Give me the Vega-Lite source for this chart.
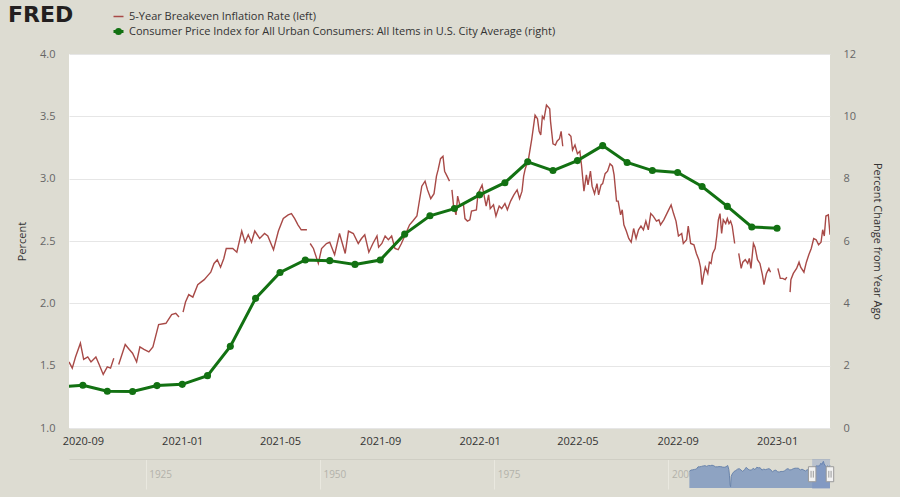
{
"$schema": "https://vega.github.io/schema/vega-lite/v6.json",
"autosize": {"type": "none"},
"padding": {"left": 69, "top": 54, "right": 831, "bottom": 443},
"background": "#dddcd2",
"config": {"font": "Open Sans", "view": {"stroke": null}},
"title": {"text": "FRED", "anchor": "start", "frame": "group", "orient": "top", "font": "DejaVu Sans", "fontSize": 22, "fontWeight": "bold", "color": "#231f20", "baseline": "alphabetic", "offset": 0, "dx": -61, "dy": 33, "letterSpacing": -1},
"datasets": {
"bei": [
{"date":"2020-08-15","rate":1.53},{"date":"2020-08-19","rate":1.48},{"date":"2020-08-23","rate":1.57},{"date":"2020-08-29","rate":1.68},{"date":"2020-09-02","rate":1.55},{"date":"2020-09-07","rate":1.57},{"date":"2020-09-11","rate":1.53},{"date":"2020-09-17","rate":1.57},{"date":"2020-09-21","rate":1.51},{"date":"2020-09-26","rate":1.43},{"date":"2020-10-01","rate":1.49},{"date":"2020-10-05","rate":1.48},{"date":"2020-10-09","rate":1.56},{"date":"2020-10-12","rate":null},
{"date":"2020-10-15","rate":1.51},{"date":"2020-10-23","rate":1.67},{"date":"2020-10-28","rate":1.63},{"date":"2020-11-01","rate":1.60},{"date":"2020-11-06","rate":1.53},{"date":"2020-11-10","rate":1.65},{"date":"2020-11-15","rate":1.63},{"date":"2020-11-21","rate":1.61},{"date":"2020-11-26","rate":1.65},{"date":"2020-12-03","rate":1.83},{"date":"2020-12-12","rate":1.84},{"date":"2020-12-19","rate":1.91},{"date":"2020-12-24","rate":1.92},{"date":"2020-12-28","rate":1.89},{"date":"2020-12-31","rate":null},
{"date":"2021-01-02","rate":1.93},{"date":"2021-01-05","rate":2.01},{"date":"2021-01-09","rate":2.07},{"date":"2021-01-14","rate":2.05},{"date":"2021-01-20","rate":2.15},{"date":"2021-01-24","rate":2.17},{"date":"2021-01-28","rate":2.19},{"date":"2021-02-01","rate":2.22},{"date":"2021-02-05","rate":2.25},{"date":"2021-02-09","rate":2.32},{"date":"2021-02-13","rate":2.35},{"date":"2021-02-17","rate":2.29},{"date":"2021-02-21","rate":2.36},{"date":"2021-02-24","rate":2.44},{"date":"2021-03-04","rate":2.44},{"date":"2021-03-09","rate":2.41},{"date":"2021-03-15","rate":2.58},{"date":"2021-03-19","rate":2.49},{"date":"2021-03-23","rate":2.55},{"date":"2021-03-27","rate":2.49},{"date":"2021-03-31","rate":2.58},{"date":"2021-04-06","rate":2.52},{"date":"2021-04-12","rate":2.56},{"date":"2021-04-16","rate":2.54},{"date":"2021-04-23","rate":2.43},{"date":"2021-04-29","rate":2.58},{"date":"2021-05-05","rate":2.68},{"date":"2021-05-11","rate":2.71},{"date":"2021-05-15","rate":2.72},{"date":"2021-05-19","rate":2.68},{"date":"2021-05-23","rate":2.63},{"date":"2021-05-27","rate":2.59},{"date":"2021-06-03","rate":2.59},{"date":"2021-06-05","rate":null},
{"date":"2021-06-07","rate":2.48},{"date":"2021-06-11","rate":2.44},{"date":"2021-06-17","rate":2.32},{"date":"2021-06-21","rate":2.44},{"date":"2021-06-27","rate":2.48},{"date":"2021-07-01","rate":2.49},{"date":"2021-07-07","rate":2.39},{"date":"2021-07-13","rate":2.56},{"date":"2021-07-20","rate":2.40},{"date":"2021-07-24","rate":2.58},{"date":"2021-07-30","rate":2.56},{"date":"2021-08-05","rate":2.48},{"date":"2021-08-09","rate":2.52},{"date":"2021-08-13","rate":2.55},{"date":"2021-08-18","rate":2.41},{"date":"2021-08-23","rate":2.48},{"date":"2021-08-28","rate":2.54},{"date":"2021-08-30","rate":2.45},{"date":"2021-09-03","rate":2.48},{"date":"2021-09-07","rate":2.54},{"date":"2021-09-11","rate":2.51},{"date":"2021-09-15","rate":2.54},{"date":"2021-09-19","rate":2.44},{"date":"2021-09-23","rate":2.43},{"date":"2021-09-27","rate":2.48},{"date":"2021-10-01","rate":2.54},{"date":"2021-10-07","rate":2.63},{"date":"2021-10-11","rate":2.66},{"date":"2021-10-16","rate":2.70},{"date":"2021-10-22","rate":2.94},{"date":"2021-10-26","rate":2.98},{"date":"2021-10-29","rate":2.91},{"date":"2021-11-02","rate":2.84},{"date":"2021-11-06","rate":2.88},{"date":"2021-11-09","rate":3.02},{"date":"2021-11-11","rate":3.07},{"date":"2021-11-14","rate":3.16},{"date":"2021-11-17","rate":3.18},{"date":"2021-11-19","rate":3.06},{"date":"2021-11-22","rate":3.02},{"date":"2021-11-25","rate":2.98},{"date":"2021-11-26","rate":null},
{"date":"2021-11-28","rate":2.91},{"date":"2021-11-30","rate":2.78},{"date":"2021-12-03","rate":2.71},{"date":"2021-12-05","rate":2.86},{"date":"2021-12-08","rate":2.78},{"date":"2021-12-12","rate":2.80},{"date":"2021-12-14","rate":2.68},{"date":"2021-12-17","rate":2.66},{"date":"2021-12-20","rate":2.67},{"date":"2021-12-22","rate":2.74},{"date":"2021-12-28","rate":2.75},{"date":"2021-12-30","rate":2.88},{"date":"2022-01-04","rate":2.95},{"date":"2022-01-06","rate":2.88},{"date":"2022-01-09","rate":2.78},{"date":"2022-01-12","rate":2.87},{"date":"2022-01-14","rate":2.76},{"date":"2022-01-18","rate":2.79},{"date":"2022-01-21","rate":2.70},{"date":"2022-01-25","rate":2.78},{"date":"2022-01-28","rate":2.76},{"date":"2022-02-01","rate":2.80},{"date":"2022-02-04","rate":2.75},{"date":"2022-02-08","rate":2.82},{"date":"2022-02-12","rate":2.87},{"date":"2022-02-16","rate":2.91},{"date":"2022-02-19","rate":2.84},{"date":"2022-02-22","rate":2.90},{"date":"2022-02-24","rate":3.02},{"date":"2022-02-26","rate":3.08},{"date":"2022-03-02","rate":3.16},{"date":"2022-03-06","rate":3.32},{"date":"2022-03-10","rate":3.51},{"date":"2022-03-13","rate":3.48},{"date":"2022-03-15","rate":3.38},{"date":"2022-03-17","rate":3.35},{"date":"2022-03-19","rate":3.50},{"date":"2022-03-21","rate":3.48},{"date":"2022-03-24","rate":3.59},{"date":"2022-03-28","rate":3.56},{"date":"2022-03-29","rate":3.46},{"date":"2022-04-01","rate":3.28},{"date":"2022-04-04","rate":3.27},{"date":"2022-04-06","rate":3.30},{"date":"2022-04-09","rate":3.32},{"date":"2022-04-11","rate":3.38},{"date":"2022-04-13","rate":3.26},{"date":"2022-04-16","rate":null},
{"date":"2022-04-20","rate":3.36},{"date":"2022-04-23","rate":3.34},{"date":"2022-04-25","rate":3.23},{"date":"2022-04-28","rate":3.27},{"date":"2022-05-01","rate":3.20},{"date":"2022-05-04","rate":3.22},{"date":"2022-05-06","rate":3.11},{"date":"2022-05-09","rate":2.90},{"date":"2022-05-12","rate":3.03},{"date":"2022-05-14","rate":2.95},{"date":"2022-05-17","rate":3.06},{"date":"2022-05-19","rate":2.94},{"date":"2022-05-22","rate":2.88},{"date":"2022-05-25","rate":2.96},{"date":"2022-05-27","rate":2.87},{"date":"2022-05-30","rate":2.95},{"date":"2022-06-01","rate":2.96},{"date":"2022-06-04","rate":3.04},{"date":"2022-06-07","rate":3.06},{"date":"2022-06-10","rate":3.12},{"date":"2022-06-13","rate":3.10},{"date":"2022-06-15","rate":3.03},{"date":"2022-06-18","rate":2.82},{"date":"2022-06-20","rate":2.82},{"date":"2022-06-23","rate":2.71},{"date":"2022-06-25","rate":2.75},{"date":"2022-06-27","rate":2.63},{"date":"2022-06-30","rate":2.58},{"date":"2022-07-03","rate":2.52},{"date":"2022-07-06","rate":2.49},{"date":"2022-07-09","rate":2.60},{"date":"2022-07-12","rate":2.52},{"date":"2022-07-15","rate":2.59},{"date":"2022-07-18","rate":2.62},{"date":"2022-07-21","rate":2.59},{"date":"2022-07-24","rate":2.66},{"date":"2022-07-27","rate":2.59},{"date":"2022-07-30","rate":2.72},{"date":"2022-08-02","rate":2.70},{"date":"2022-08-06","rate":2.66},{"date":"2022-08-09","rate":2.67},{"date":"2022-08-11","rate":2.63},{"date":"2022-08-15","rate":2.67},{"date":"2022-08-18","rate":2.71},{"date":"2022-08-21","rate":2.75},{"date":"2022-08-24","rate":2.79},{"date":"2022-08-27","rate":2.72},{"date":"2022-08-30","rate":2.66},{"date":"2022-09-02","rate":2.54},{"date":"2022-09-06","rate":2.56},{"date":"2022-09-08","rate":2.48},{"date":"2022-09-12","rate":2.51},{"date":"2022-09-14","rate":2.62},{"date":"2022-09-17","rate":2.48},{"date":"2022-09-21","rate":2.47},{"date":"2022-09-24","rate":2.40},{"date":"2022-09-27","rate":2.35},{"date":"2022-09-29","rate":2.29},{"date":"2022-10-01","rate":2.15},{"date":"2022-10-03","rate":2.23},{"date":"2022-10-05","rate":2.29},{"date":"2022-10-08","rate":2.24},{"date":"2022-10-10","rate":2.33},{"date":"2022-10-12","rate":2.32},{"date":"2022-10-14","rate":2.40},{"date":"2022-10-17","rate":2.44},{"date":"2022-10-19","rate":2.54},{"date":"2022-10-21","rate":2.67},{"date":"2022-10-23","rate":2.72},{"date":"2022-10-25","rate":2.56},{"date":"2022-10-27","rate":2.67},{"date":"2022-10-30","rate":2.64},{"date":"2022-11-01","rate":2.68},{"date":"2022-11-03","rate":2.64},{"date":"2022-11-05","rate":2.66},{"date":"2022-11-07","rate":2.62},{"date":"2022-11-10","rate":2.48},{"date":"2022-11-12","rate":null},
{"date":"2022-11-15","rate":2.40},{"date":"2022-11-18","rate":2.28},{"date":"2022-11-20","rate":2.33},{"date":"2022-11-23","rate":2.35},{"date":"2022-11-26","rate":2.32},{"date":"2022-11-28","rate":2.36},{"date":"2022-11-30","rate":2.28},{"date":"2022-12-03","rate":2.48},{"date":"2022-12-05","rate":2.45},{"date":"2022-12-08","rate":2.35},{"date":"2022-12-11","rate":2.32},{"date":"2022-12-14","rate":2.23},{"date":"2022-12-16","rate":2.15},{"date":"2022-12-19","rate":2.24},{"date":"2022-12-22","rate":2.28},{"date":"2022-12-24","rate":2.25},{"date":"2022-12-28","rate":null},
{"date":"2023-01-02","rate":2.28},{"date":"2023-01-05","rate":2.20},{"date":"2023-01-08","rate":2.20},{"date":"2023-01-11","rate":2.19},{"date":"2023-01-13","rate":2.21},{"date":"2023-01-15","rate":null},
{"date":"2023-01-17","rate":2.09},{"date":"2023-01-18","rate":2.19},{"date":"2023-01-21","rate":2.24},{"date":"2023-01-25","rate":2.28},{"date":"2023-01-28","rate":2.33},{"date":"2023-01-30","rate":2.29},{"date":"2023-02-03","rate":2.25},{"date":"2023-02-06","rate":2.33},{"date":"2023-02-09","rate":2.39},{"date":"2023-02-12","rate":2.44},{"date":"2023-02-15","rate":2.52},{"date":"2023-02-18","rate":2.51},{"date":"2023-02-21","rate":2.47},{"date":"2023-02-24","rate":2.49},{"date":"2023-02-26","rate":2.59},{"date":"2023-02-28","rate":2.54},{"date":"2023-03-02","rate":2.70},{"date":"2023-03-05","rate":2.71},{"date":"2023-03-07","rate":2.55}
],
"cpi": [
{"date":"2020-08-01","cpi":1.31},{"date":"2020-09-01","cpi":1.37},{"date":"2020-10-01","cpi":1.18},{"date":"2020-11-01","cpi":1.17},{"date":"2020-12-01","cpi":1.36},{"date":"2021-01-01","cpi":1.40},{"date":"2021-02-01","cpi":1.68},{"date":"2021-03-01","cpi":2.62},{"date":"2021-04-01","cpi":4.16},{"date":"2021-05-01","cpi":4.99},{"date":"2021-06-01","cpi":5.39},{"date":"2021-07-01","cpi":5.37},{"date":"2021-08-01","cpi":5.25},{"date":"2021-09-01","cpi":5.39},{"date":"2021-10-01","cpi":6.22},{"date":"2021-11-01","cpi":6.81},{"date":"2021-12-01","cpi":7.04},{"date":"2022-01-01","cpi":7.48},{"date":"2022-02-01","cpi":7.87},{"date":"2022-03-01","cpi":8.54},{"date":"2022-04-01","cpi":8.26},{"date":"2022-05-01","cpi":8.58},{"date":"2022-06-01","cpi":9.06},{"date":"2022-07-01","cpi":8.52},{"date":"2022-08-01","cpi":8.26},{"date":"2022-09-01","cpi":8.20},{"date":"2022-10-01","cpi":7.75},{"date":"2022-11-01","cpi":7.11},{"date":"2022-12-01","cpi":6.45},{"date":"2023-01-01","cpi":6.41}
],
"nav": [
{"date":"2003-01-02","v":1.35},{"date":"2003-04-01","v":1.6},{"date":"2003-07-01","v":1.65},{"date":"2003-10-01","v":1.75},{"date":"2004-01-01","v":1.8},{"date":"2004-04-01","v":2.3},{"date":"2004-07-01","v":2.3},{"date":"2004-10-01","v":2.4},{"date":"2005-01-01","v":2.5},{"date":"2005-04-01","v":2.55},{"date":"2005-07-01","v":2.4},{"date":"2005-10-01","v":2.6},{"date":"2006-01-01","v":2.55},{"date":"2006-04-01","v":2.65},{"date":"2006-07-01","v":2.55},{"date":"2006-10-01","v":2.3},{"date":"2007-01-01","v":2.3},{"date":"2007-04-01","v":2.35},{"date":"2007-07-01","v":2.35},{"date":"2007-10-01","v":2.25},{"date":"2008-01-01","v":2.2},{"date":"2008-04-01","v":2.3},{"date":"2008-07-01","v":2.6},{"date":"2008-09-01","v":1.7},{"date":"2008-10-01","v":0.5},{"date":"2008-11-01","v":-1.5},{"date":"2008-12-01","v":-2.0},{"date":"2009-01-01","v":0.2},{"date":"2009-03-01","v":0.8},{"date":"2009-06-01","v":1.3},{"date":"2009-09-01","v":1.5},{"date":"2009-12-01","v":1.8},{"date":"2010-03-01","v":1.9},{"date":"2010-06-01","v":1.6},{"date":"2010-09-01","v":1.3},{"date":"2010-12-01","v":1.7},{"date":"2011-03-01","v":2.2},{"date":"2011-06-01","v":1.8},{"date":"2011-09-01","v":1.6},{"date":"2011-12-01","v":1.6},{"date":"2012-03-01","v":2.0},{"date":"2012-06-01","v":1.7},{"date":"2012-09-01","v":2.2},{"date":"2012-12-01","v":2.1},{"date":"2013-03-01","v":2.1},{"date":"2013-06-01","v":1.6},{"date":"2013-09-01","v":1.8},{"date":"2013-12-01","v":1.7},{"date":"2014-03-01","v":1.8},{"date":"2014-06-01","v":1.9},{"date":"2014-09-01","v":1.7},{"date":"2014-12-01","v":1.2},{"date":"2015-03-01","v":1.5},{"date":"2015-06-01","v":1.6},{"date":"2015-09-01","v":1.2},{"date":"2015-12-01","v":1.2},{"date":"2016-03-01","v":1.3},{"date":"2016-06-01","v":1.3},{"date":"2016-09-01","v":1.4},{"date":"2016-12-01","v":1.8},{"date":"2017-03-01","v":1.9},{"date":"2017-06-01","v":1.6},{"date":"2017-09-01","v":1.7},{"date":"2017-12-01","v":1.9},{"date":"2018-03-01","v":2.0},{"date":"2018-06-01","v":2.0},{"date":"2018-09-01","v":2.0},{"date":"2018-12-01","v":1.6},{"date":"2019-03-01","v":1.8},{"date":"2019-06-01","v":1.6},{"date":"2019-09-01","v":1.4},{"date":"2019-12-01","v":1.7},{"date":"2020-02-01","v":1.5},{"date":"2020-03-20","v":0.3},{"date":"2020-04-15","v":0.7},{"date":"2020-06-01","v":1.2},{"date":"2020-09-01","v":1.6},{"date":"2020-12-01","v":1.9},{"date":"2021-03-01","v":2.5},{"date":"2021-06-01","v":2.5},{"date":"2021-09-01","v":2.5},{"date":"2021-11-15","v":3.1},{"date":"2022-01-01","v":2.8},{"date":"2022-03-25","v":3.5},{"date":"2022-05-01","v":3.0},{"date":"2022-07-01","v":2.5},{"date":"2022-09-01","v":2.3},{"date":"2022-11-01","v":2.5},{"date":"2023-01-15","v":2.2},{"date":"2023-03-07","v":2.6}
],
"sel": [{"start":"2020-08-15","end":"2023-03-07"}],
"handles": [{"date":"2020-08-15"},{"date":"2023-03-04"}]
},
"vconcat": [
{
"width": 761, "height": 374,
"view": {"fill": "#ffffff", "stroke": null},
"layer": [
{
"data": {"name": "bei"},
"mark": {"type": "line", "strokeWidth": 1.4, "clip": true, "invalid": "break-paths-filter-domains"},
"encoding": {
"x": {"field": "date", "type": "temporal", "scale": {"type": "utc", "domain": [{"year":2020,"month":8,"date":15,"utc":true},{"year":2023,"month":3,"date":7,"utc":true}]},
"axis": {"values": [{"year":2020,"month":9,"date":1,"utc":true},{"year":2021,"month":1,"date":1,"utc":true},{"year":2021,"month":5,"date":1,"utc":true},{"year":2021,"month":9,"date":1,"utc":true},{"year":2022,"month":1,"date":1,"utc":true},{"year":2022,"month":5,"date":1,"utc":true},{"year":2022,"month":9,"date":1,"utc":true},{"year":2023,"month":1,"date":1,"utc":true}], "format": "%Y-%m", "title": null, "grid": false, "domain": false, "ticks": false, "labelPadding": 7, "labelFontSize": 11, "labelColor": "#333333", "labelFlush": false, "labelOverlap": false}},
"y": {"field": "rate", "type": "quantitative", "scale": {"domain": [1, 4]},
"axis": {"orient": "left", "values": [1, 1.5, 2, 2.5, 3, 3.5, 4], "format": ".1f", "title": "Percent", "titleFontSize": 11, "titleFontWeight": "normal", "titleColor": "#333333", "titlePadding": 12, "grid": true, "gridColor": "#e6e6e6", "domain": false, "ticks": false, "labelPadding": 14, "labelFontSize": 11, "labelColor": "#666666"}},
"color": {"datum": "5-Year Breakeven Inflation Rate (left)", "type": "nominal",
"scale": {"domain": ["5-Year Breakeven Inflation Rate (left)", "Consumer Price Index for All Urban Consumers: All Items in U.S. City Average (right)"], "range": ["#a84a47", "#127112"]},
"legend": {"orient": "none", "legendX": 44, "legendY": -43, "title": null, "direction": "vertical", "padding": 0, "labelFont": "Open Sans", "labelFontSize": 11, "labelColor": "#333333", "labelLimit": 800, "labelOffset": 5, "rowPadding": 1, "symbolSize": 100, "symbolType": "stroke",
"encode": {"symbols": {"update": {
"shape": {"signal": "datum.index === 1 ? 'M-1,0H1M-0.4,0A0.4,0.4,0,1,0,0.4,0A0.4,0.4,0,1,0,-0.4,0Z' : 'stroke'"},
"strokeWidth": {"signal": "datum.index === 1 ? 3 : 1.5"},
"fill": {"signal": "datum.index === 1 ? '#127112' : 'transparent'"}
}}}}}
}
},
{
"data": {"name": "cpi"},
"mark": {"type": "line", "strokeWidth": 3, "clip": true, "point": {"filled": true, "size": 50, "opacity": 1, "clip": true}},
"encoding": {
"x": {"field": "date", "type": "temporal"},
"y": {"field": "cpi", "type": "quantitative", "scale": {"domain": [0, 12]},
"axis": {"orient": "right", "values": [0, 2, 4, 6, 8, 10, 12], "title": "Percent Change from Year Ago", "titleFontSize": 11, "titleFontWeight": "normal", "titleColor": "#333333", "titlePadding": 16, "grid": false, "domain": false, "ticks": false, "labelPadding": 13, "labelFontSize": 11, "labelColor": "#666666"}},
"color": {"datum": "Consumer Price Index for All Urban Consumers: All Items in U.S. City Average (right)", "type": "nominal"}
}
}
],
"resolve": {"scale": {"y": "independent"}}
},
{
"width": 761, "height": 30,
"layer": [
{
"data": {"name": "nav"},
"mark": {"type": "area", "color": "#8ea3c2", "opacity": 1, "line": {"color": "#6a84ab", "strokeWidth": 1}},
"encoding": {
"x": {"field": "date", "type": "temporal", "scale": {"type": "utc", "domain": [{"year":1914,"month":1,"date":1,"utc":true},{"year":2023,"month":3,"date":7,"utc":true}]},
"axis": {"orient": "top", "values": [{"year":1925,"utc":true},{"year":1950,"utc":true},{"year":1975,"utc":true},{"year":2000,"utc":true}], "format": "%Y", "title": null, "grid": true, "gridColor": "#e9e8df", "domain": true, "domainColor": "#cfcec4", "ticks": false, "tickSize": 0, "labelPadding": -20, "labelAlign": "left", "labelOffset": 3, "labelColor": "#b3b2aa", "labelFontSize": 10, "labelFlush": false, "labelOverlap": false}},
"y": {"field": "v", "type": "quantitative", "scale": {"domain": [-2.3, 3.7]}, "axis": null},
"y2": {"datum": -2.3}
}
},
{
"data": {"name": "sel"},
"mark": {"type": "rect", "color": "#6685c2", "opacity": 0.3},
"encoding": {"x": {"field": "start", "type": "temporal"}, "x2": {"field": "end"}}
},
{
"data": {"name": "handles"},
"mark": {"type": "point", "shape": "M-0.5,-1H0.5V1H-0.5Z M-0.15,-0.45V0.45 M0.15,-0.45V0.45", "size": 225, "filled": false, "fill": "#f2f2f2", "stroke": "#999999", "strokeWidth": 1, "opacity": 1},
"encoding": {"x": {"field": "date", "type": "temporal"}, "y": {"datum": 0.7}}
}
]
}
],
"spacing": 31,
"bounds": "flush"
}
